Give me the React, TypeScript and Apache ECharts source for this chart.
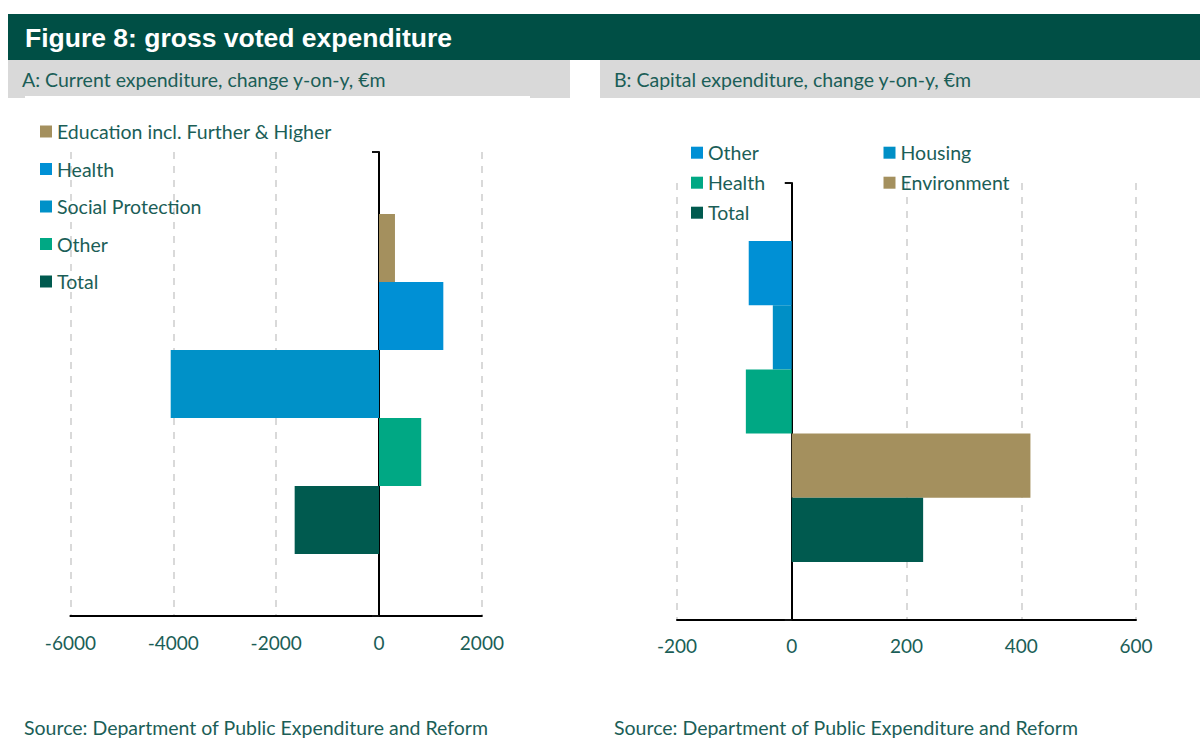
import React, { useEffect, useRef } from "react";
import * as echarts from "echarts";

const leftCategories = ["Education incl. Further & Higher", "Health", "Social Protection", "Other", "Total"];
const leftValues = [310, 1250, -4050, 820, -1640];
const leftColors = ["#a4905e", "#0090d5", "#0091c8", "#00a884", "#005a4f"];
const leftTicks = { min: -6000, max: 2000, interval: 2000 };

const rightCategories = ["Other", "Housing", "Health", "Environment", "Total"];
const rightValues = [-75, -33, -80, 416, 229];
const rightColors = ["#0090d5", "#008fc6", "#00a884", "#a4905e", "#005a4f"];
const rightTicks = { min: -200, max: 600, interval: 200 };

const titleText = "Figure 8: gross voted expenditure";
const subtitleA = "A: Current expenditure, change y-on-y, €m";
const subtitleB = "B: Capital expenditure, change y-on-y, €m";
const sourceText = "Source: Department of Public Expenditure and Reform";

const TEAL_TEXT = "#1b5e57";
const FONT = "Lato, 'Open Sans', sans-serif";
const FS = 19.5;
const RIGHT_PREFIX = "B:";

function makeSeries(cats: string[], vals: number[], colors: string[], gridBars: number, stack: string, prefix: string) {
  return cats.map((c, i) => ({
    name: prefix + c,
    type: "bar",
    xAxisIndex: gridBars,
    yAxisIndex: gridBars,
    stack,
    barCategoryGap: "0%",
    itemStyle: { color: colors[i] },
    data: cats.map((_, j) => (j === i ? vals[i] : "-")),
  }));
}

function axesX(gridIndex: number, t: { min: number; max: number; interval: number }, margin: number) {
  return {
    gridIndex,
    type: "value",
    min: t.min,
    max: t.max,
    interval: t.interval,
    axisLine: { show: true, onZero: false, lineStyle: { color: "#000", width: 2 } },
    axisTick: { show: false },
    axisLabel: {
      color: TEAL_TEXT,
      fontSize: 19,
      fontFamily: FONT,
      margin,
      formatter: (v: number) => String(v),
    },
    splitLine: { show: true, lineStyle: { type: [7, 7], color: "#d9d9d9", width: 2 } },
  };
}
function barsX(gridIndex: number, t: { min: number; max: number; interval: number }) {
  return { gridIndex, type: "value", min: t.min, max: t.max, interval: t.interval, show: false };
}
function axesY(gridIndex: number) {
  return {
    gridIndex,
    type: "value",
    min: 0,
    max: 1,
    interval: 1,
    axisLine: { show: true, onZero: true, lineStyle: { color: "#000", width: 2 } },
    axisTick: { show: true, length: 7, lineStyle: { color: "#111", width: 2 } },
    axisLabel: { show: false },
    splitLine: { show: false },
  };
}
function barsY(gridIndex: number, cats: string[]) {
  return { gridIndex, type: "category", data: cats, inverse: true, show: false };
}

const legendText = { fontSize: FS, color: TEAL_TEXT, fontFamily: FONT, lineHeight: 22 };

export default function App() {
  const ref = useRef<HTMLDivElement>(null);
  useEffect(() => {
    if (!ref.current) return;
    const chart = echarts.init(ref.current, undefined, { renderer: "svg" });
    const txt = (x: number, y: number, text: string) => ({
      type: "text",
      z: 11,
      style: { x, y, text, fill: TEAL_TEXT, font: `${FS}px ${FONT}`, verticalAlign: "middle", textVerticalAlign: "middle" },
    });
    chart.setOption({
      animation: false,
      backgroundColor: "#ffffff",
      grid: [
        { left: 70.4, top: 152, width: 411.5, height: 464 },
        { left: 70.4, top: 214, width: 411.5, height: 340 },
        { left: 677, top: 183, width: 459, height: 437 },
        { left: 677, top: 241, width: 459, height: 321 },
      ],
      xAxis: [axesX(0, leftTicks, 17), barsX(1, leftTicks), axesX(2, rightTicks, 16), barsX(3, rightTicks)],
      yAxis: [axesY(0), barsY(1, leftCategories), axesY(2), barsY(3, rightCategories)],
      legend: [
        {
          orient: "vertical",
          left: 40,
          top: 120.5,
          padding: 0,
          itemWidth: 12,
          itemHeight: 12,
          itemGap: 15.5,
          icon: "rect",
          selectedMode: false,
          textStyle: legendText,
          data: leftCategories,
        },
        {
          orient: "vertical",
          left: 691,
          top: 141.7,
          padding: 0,
          itemWidth: 12,
          itemHeight: 12,
          itemGap: 8,
          icon: "rect",
          selectedMode: false,
          textStyle: legendText,
          formatter: (n: string) => n.replace(RIGHT_PREFIX, ""),
          data: [RIGHT_PREFIX + "Other", RIGHT_PREFIX + "Health", RIGHT_PREFIX + "Total"],
        },
        {
          orient: "vertical",
          left: 883.5,
          top: 141.7,
          padding: 0,
          itemWidth: 12,
          itemHeight: 12,
          itemGap: 8,
          icon: "rect",
          selectedMode: false,
          textStyle: legendText,
          formatter: (n: string) => n.replace(RIGHT_PREFIX, ""),
          data: [RIGHT_PREFIX + "Housing", RIGHT_PREFIX + "Environment"],
        },
      ],
      graphic: [
        { type: "rect", shape: { x: 8, y: 14, width: 1192, height: 46 }, style: { fill: "#004f45" }, z: 10 },
        {
          type: "text",
          z: 11,
          style: {
            x: 25,
            y: 37.5,
            text: titleText,
            fill: "#ffffff",
            font: "bold 26.5px 'Liberation Sans', Arial, sans-serif",
            verticalAlign: "middle",
            textVerticalAlign: "middle",
          },
        },
        { type: "rect", shape: { x: 8, y: 60, width: 562, height: 38 }, style: { fill: "#d9d9d9" }, z: 10 },
        { type: "rect", shape: { x: 25, y: 96, width: 505, height: 2 }, style: { fill: "#ffffff" }, z: 10 },
        { type: "rect", shape: { x: 600, y: 60, width: 600, height: 38 }, style: { fill: "#d9d9d9" }, z: 10 },
        txt(22, 79, subtitleA),
        txt(614, 79, subtitleB),
        txt(24, 727, sourceText),
        txt(614, 727, sourceText),
      ],
      series: [
        ...makeSeries(leftCategories, leftValues, leftColors, 1, "left", ""),
        ...makeSeries(rightCategories, rightValues, rightColors, 3, "right", RIGHT_PREFIX),
      ],
    });
    return () => chart.dispose();
  }, []);
  return <div ref={ref} style={{ position: "fixed", left: 0, top: 0, width: 1200, height: 740 }} />;
}
